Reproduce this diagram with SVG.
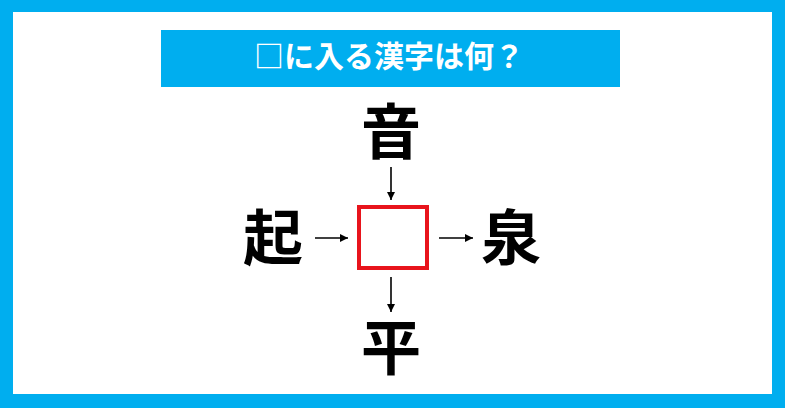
<svg xmlns="http://www.w3.org/2000/svg" width="785" height="408" viewBox="0 0 785 408">
<defs>
<style>
.k{font-family:"Noto Sans CJK JP","Noto Sans CJK SC",sans-serif;font-weight:700;font-size:60px;fill:#000;text-anchor:middle}
.t{font-family:"Noto Sans CJK JP","Noto Sans CJK SC",sans-serif;font-weight:700;font-size:30px;fill:#fff;text-anchor:middle}
.c{stroke:#000;stroke-width:1.6;fill:none}
</style>
<marker id="ah" viewBox="0 0 10 10" refX="10" refY="5" markerWidth="8" markerHeight="8" markerUnits="userSpaceOnUse" orient="auto">
<path d="M0,0 L10,5 L0,10 Z" fill="#000"/>
</marker>
</defs>
<rect x="0" y="0" width="785" height="408" fill="#00AEEF"/>
<rect x="13" y="12" width="759" height="382" fill="#fff"/>
<g id="title">
<rect x="161" y="30" width="459" height="57" fill="#00AEEF"/>
<text class="t" x="389" y="67">□に入る漢字は何？</text>
</g>
<g id="center">
<rect x="359" y="207" width="68" height="61" fill="#fff" stroke="#E8141C" stroke-width="4"/>
</g>
<g id="top"><text class="k" x="391" y="154">音</text></g>
<g id="left"><text class="k" x="273" y="260">起</text></g>
<g id="right"><text class="k" x="511" y="260">泉</text></g>
<g id="bottom"><text class="k" x="391" y="370">平</text></g>
<g id="connectors">
<line class="c" x1="391" y1="167" x2="391" y2="200" marker-end="url(#ah)"/>
<line class="c" x1="315" y1="238" x2="348" y2="238" marker-end="url(#ah)"/>
<line class="c" x1="439" y1="238" x2="473" y2="238" marker-end="url(#ah)"/>
<line class="c" x1="391" y1="277" x2="391" y2="312" marker-end="url(#ah)"/>
</g>
</svg>
